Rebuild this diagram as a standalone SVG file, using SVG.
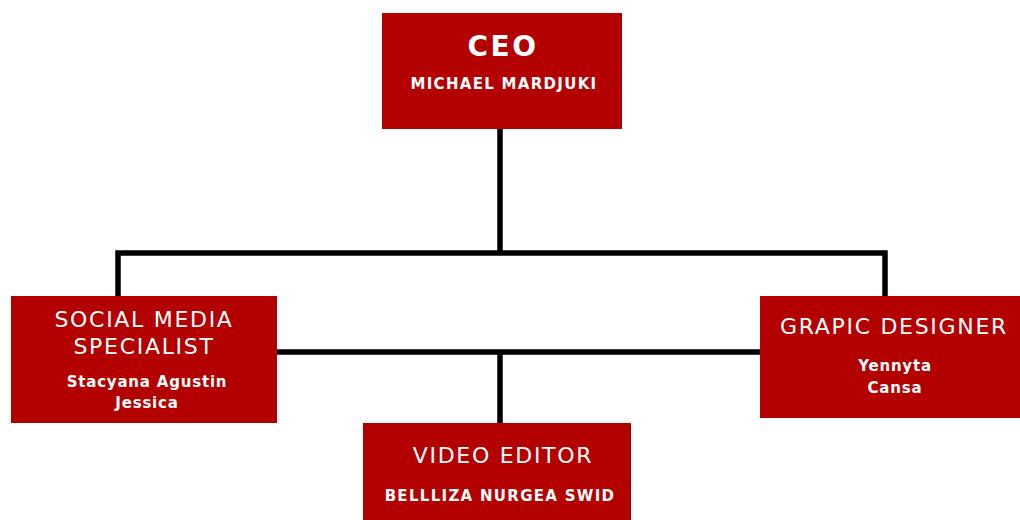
<svg xmlns="http://www.w3.org/2000/svg" width="1020" height="520" viewBox="0 0 1020 520">
<style>
.box{fill:#b30000}
.t{font-family:"DejaVu Sans","Open Sans",sans-serif;fill:#fff;text-anchor:middle}
.title{font-size:22px;letter-spacing:1.7px}
.name{font-size:15px;font-weight:bold;letter-spacing:1.3px}
.mixed{letter-spacing:0.8px}
.conn{fill:none;stroke:#000;stroke-width:5.5}
</style>
<rect width="1020" height="520" fill="#fff"/>
<g id="connectors">
<path class="conn" d="M500,129 V253"/>
<path class="conn" d="M118,296 V253 H885 V296"/>
<path class="conn" d="M277,352 H760"/>
<path class="conn" d="M500,352 V423"/>
</g>
<g id="ceo">
<rect class="box" x="382" y="13" width="240" height="116"/>
<text class="t" x="503" y="56" style="font-size:28px;font-weight:bold;letter-spacing:2.5px">CEO</text>
<text class="t name" x="504" y="89">MICHAEL MARDJUKI</text>
</g>
<g id="social">
<rect class="box" x="11" y="296" width="266" height="127"/>
<text class="t title" x="144" y="327">SOCIAL MEDIA</text>
<text class="t title" x="144" y="354">SPECIALIST</text>
<text class="t name mixed" x="147" y="387">Stacyana Agustin</text>
<text class="t name mixed" x="147" y="408">Jessica</text>
</g>
<g id="graphic">
<rect class="box" x="760" y="296" width="262" height="122"/>
<text class="t title" x="894" y="334">GRAPIC DESIGNER</text>
<text class="t name mixed" x="895" y="371">Yennyta</text>
<text class="t name mixed" x="895" y="393">Cansa</text>
</g>
<g id="video">
<rect class="box" x="363" y="423" width="268" height="100"/>
<text class="t title" x="503" y="463">VIDEO EDITOR</text>
<text class="t name" x="500" y="501">BELLLIZA NURGEA SWID</text>
</g>
</svg>
